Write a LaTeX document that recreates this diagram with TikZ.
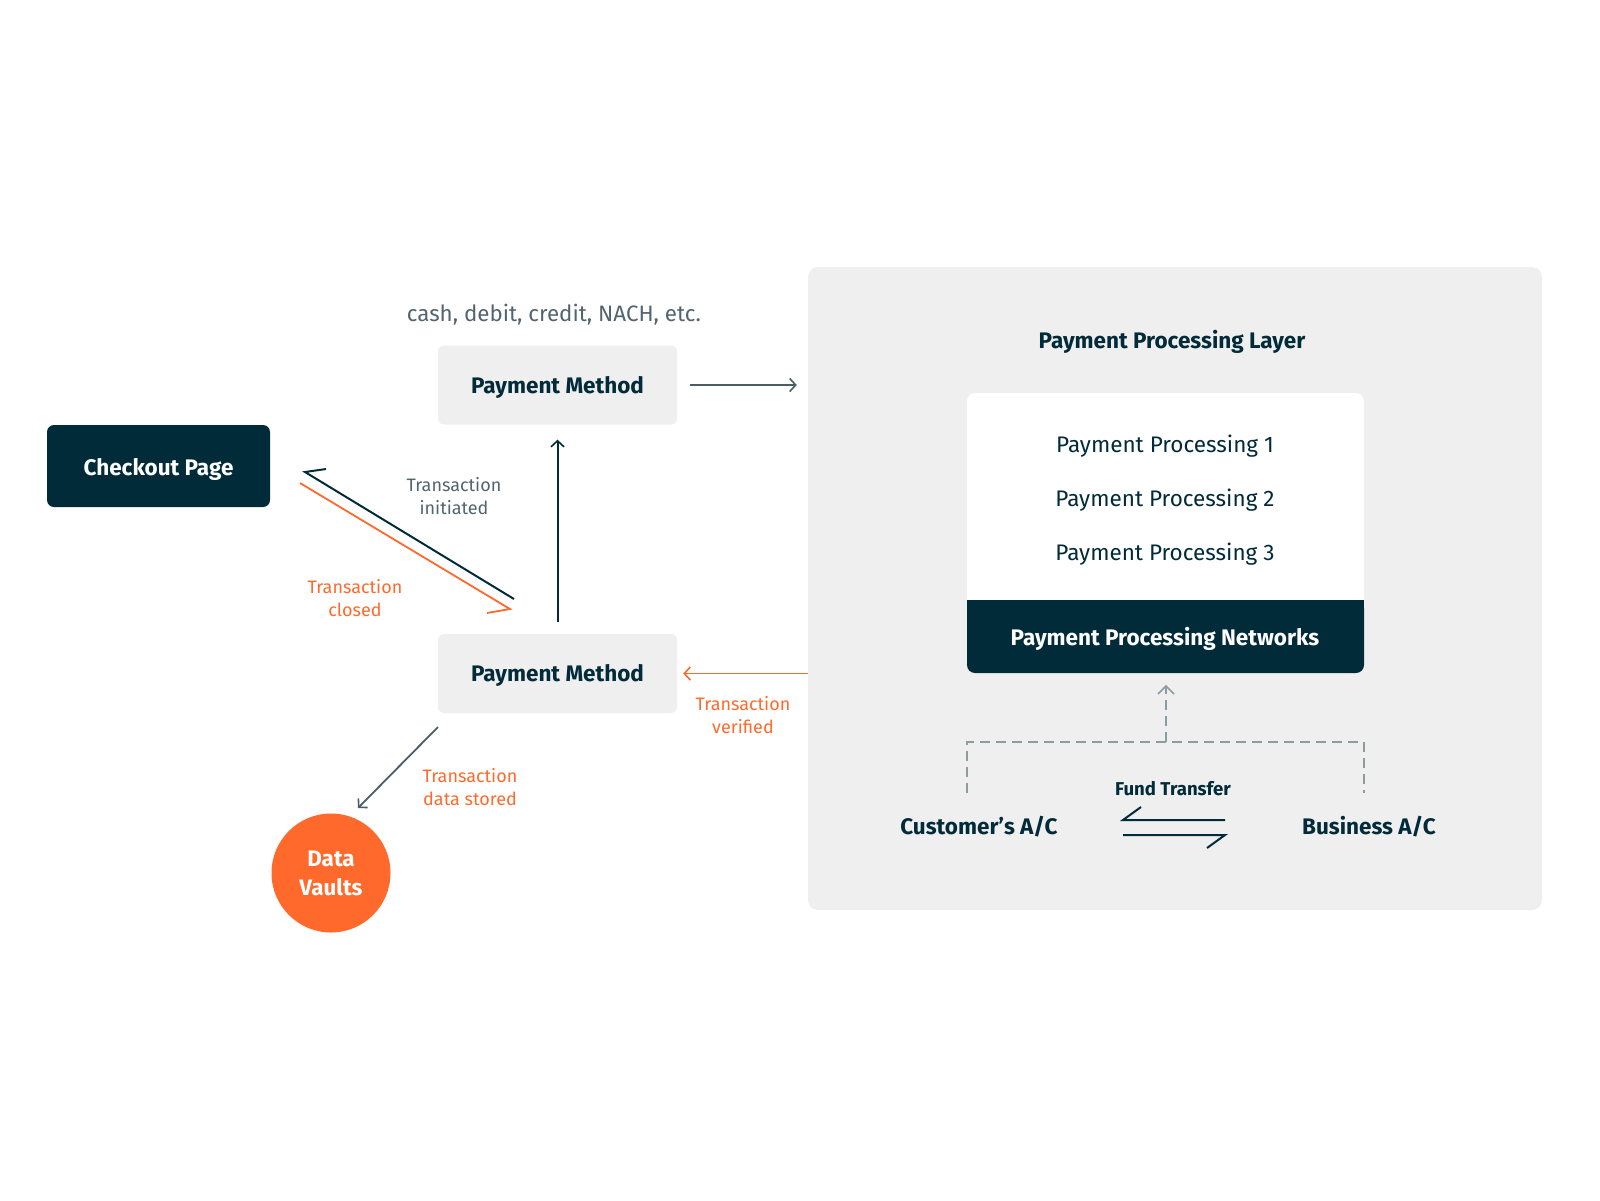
\documentclass[tikz,border=0pt]{standalone}
\usepackage{fontspec}
\setmainfont{Fira Sans}
\usetikzlibrary{arrows.meta,calc}
\definecolor{navy}{HTML}{022B3A}
\definecolor{orng}{HTML}{FF6A2C}
\definecolor{lgray}{HTML}{EFEFEF}
\definecolor{tgray}{HTML}{52646E}
\definecolor{agray}{HTML}{4A5E68}
\definecolor{dgray}{HTML}{8C9CA3}
\begin{document}
\begin{tikzpicture}[x=1pt,y=-1pt,
  tip/.style={-{Straight Barb[length=6pt,width=13pt,line width=1.6pt]}},
  pmbox/.style={fill=lgray,rounded corners=6pt,text=navy,inner sep=0pt,minimum width=239pt,minimum height=79pt,font=\bfseries\fontsize{22.5}{26}\selectfont},
  darkbox/.style={fill=navy,rounded corners=7pt,text=white,inner sep=0pt,font=\bfseries\fontsize{22.5}{26}\selectfont},
  lbl/.style={align=center,inner sep=0pt,font=\fontsize{18}{23}\selectfont},
  bold/.style={inner sep=0pt,text=navy,font=\bfseries\fontsize{22.5}{26}\selectfont},
  proc/.style={inner sep=0pt,text=navy,font=\fontsize{22.5}{26}\selectfont},
  dashln/.style={draw=dgray,line width=1.6pt,dash pattern=on 10pt off 6pt}
]
\useasboundingbox (0,0) rectangle (1600,1200);
% panel
\node[fill=lgray,rounded corners=10pt,minimum width=734pt,minimum height=643pt,inner sep=0pt] (panel) at (1175,588.5) {};
\node[bold] (layer) at (1172,342) {Payment Processing Layer};
\fill[white,rounded corners=8pt] (967,393) rectangle (1364,673);
\fill[navy,rounded corners=8pt] (967,600) rectangle (1364,673);
\fill[navy] (967,600) rectangle (1364,630);
\node[proc] (pp1) at (1165,446) {Payment Processing 1};
\node[proc] (pp2) at (1165,500) {Payment Processing 2};
\node[proc] (pp3) at (1165,554) {Payment Processing 3};
\node[text=white,inner sep=0pt,font=\bfseries\fontsize{22.5}{26}\selectfont] (net) at (1165,639) {Payment Processing Networks};
% accounts
\node[bold] (cust) at (979,827) {Customer’s A/C};
\node[bold] (bus) at (1369,827) {Business A/C};
\node[inner sep=0pt,text=navy,font=\bfseries\fontsize{18.6}{22}\selectfont] (fund) at (1173,789) {Fund Transfer};
\coordinate (dL) at (967,793);
\coordinate (dR) at (1364,793);
\coordinate (dM) at (1166,742);
\coordinate (dT) at (1166,686);
\draw[dashln] (dL) -- (967,742) -- (1364,742) -- (dR);
\draw[dashln] (dM) -- (dT);
\draw[draw=dgray,line width=1.6pt] (1158,694) -- (dT) -- (1174,694);
\coordinate (f1) at (1123,820);
\coordinate (f2) at (1225,820);
\coordinate (f3) at (1123,835);
\coordinate (f4) at (1225,835);
\draw[navy,line width=2pt] (f2) -- (f1) -- (1141,807);
\draw[navy,line width=2pt] (f3) -- (f4) -- (1207,848);
% left side
\node[lbl,text=tgray,font=\fontsize{22.3}{26}\selectfont] (cash) at (554,315) {cash, debit, credit, NACH, etc.};
\node[pmbox] (pm1) at (557.5,385) {};
\node[pmbox] (pm2) at (557.5,673.5) {};
\node[bold] (pm1t) at ($(pm1)+(0,2)$) {Payment Method};
\node[bold] (pm2t) at ($(pm2)+(0,2)$) {Payment Method};
\node[darkbox,minimum width=223pt,minimum height=82pt] (co) at (158.5,466) {};
\node[inner sep=0pt,text=white,font=\bfseries\fontsize{22.5}{26}\selectfont] (cot) at ($(co)+(0,3)$) {Checkout Page};
\node[circle,fill=orng,minimum size=119pt,inner sep=0pt,text=white,align=center,font=\bfseries\fontsize{22.4}{29}\selectfont] (dv) at (331,873) {Data\\ Vaults};
% arrows
\draw[agray,line width=1.6pt,tip] ($(pm1.east)+(13,0)$) coordinate (a1) -- ($(panel.west |- pm1.east)+(-11,0)$);
\draw[navy,line width=2pt,tip] ($(pm2.north)+(0,-12)$) coordinate (v1) -- ($(pm1.south)+(0,15)$);
\draw[orng,line width=1.8pt,tip] (panel.west |- pm2.east) -- ($(pm2.east)+(6,0)$);
\coordinate (c1) at (514,599);
\coordinate (c2) at (305,472);
\draw[navy,line width=2pt] (c1) -- (c2) -- (326,469);
\coordinate (o1) at (300,483);
\coordinate (o2) at (510,609);
\draw[orng,line width=1.8pt] (o1) -- (o2) -- (487,613);
\coordinate (s1) at (438,727);
\coordinate (s2) at (358,808);
\draw[agray,line width=1.8pt,tip] (s1) -- (s2);
% labels
\node[lbl,text=tgray] (ti) at (454,496) {Transaction\\ initiated};
\node[lbl,text=orng] (tc) at (355,598) {Transaction\\ closed};
\node[lbl,text=orng] (tv) at (743,715) {Transaction\\ verified};
\node[lbl,text=orng] (td) at (470,787) {Transaction\\ data stored};
\end{tikzpicture}
\end{document}
